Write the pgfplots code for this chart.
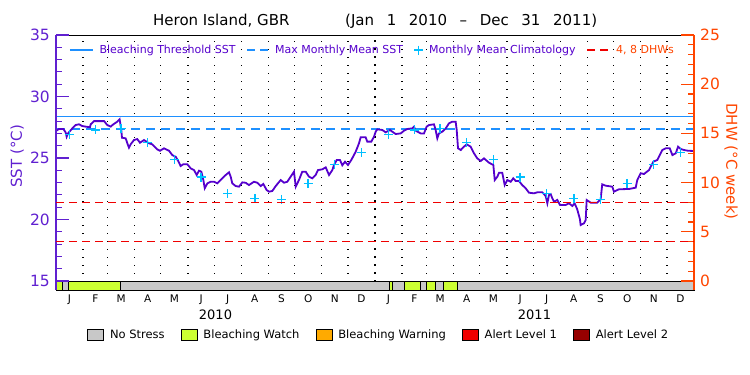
\documentclass[border=0pt]{standalone}
\usepackage{pgfplots}
\usepackage{pgfplotstable}
\pgfplotsset{compat=1.18}
\usepackage{fontspec}
\setmainfont{DejaVu Sans}
\definecolor{sstpurple}{RGB}{85,0,204}
\definecolor{axpurple}{RGB}{96,32,208}
\definecolor{dhwor}{RGB}{255,69,0}
\definecolor{thrblue}{RGB}{30,144,255}
\definecolor{climcyan}{RGB}{0,191,255}
\definecolor{dhwred}{RGB}{240,0,0}
\definecolor{nsgray}{RGB}{200,200,200}
\definecolor{watch}{RGB}{204,255,51}
\definecolor{warning}{RGB}{255,170,0}
\definecolor{alertone}{RGB}{240,0,0}
\definecolor{alerttwo}{RGB}{150,0,0}
\pgfplotsset{
  linelegend/.style={legend image code/.code={\draw[##1] (0pt,0pt) -- (#1,0pt);}},
  marklegend/.style={legend image code/.code={\draw[##1] plot coordinates {(6pt,0pt)};}},
  boxlegend/.style={legend image code/.code={\draw[##1,draw=black,line width=0.8pt] (0pt,-5.5pt) rectangle (16pt,5.5pt);}},
}
\pgfplotstableread{
day sst
0 27.2
3.4 27.36
8.4 27.36
11 27.09
12.2 26.73
13.7 27.0
18.7 27.41
22.5 27.68
26.3 27.74
30 27.6
34 27.55
38.9 27.5
39.7 27.74
43.5 28.0
55 28.0
58.7 27.68
62.5 27.55
65.6 27.74
70 27.95
72.8 28.15
74.7 27.28
75.5 26.65
79.7 26.6
81.6 26.2
83.5 25.84
85.4 26.11
89.2 26.46
93 26.54
96.1 26.24
100.7 26.46
106.4 26.2
110.2 26.11
115.9 25.7
119 25.59
123.6 25.79
129.3 25.59
133 25.24
137 25.1
139.6 24.78
142.6 24.35
145.7 24.49
150.3 24.49
154.1 24.16
157.9 24.02
161 23.62
163.6 23.97
166.3 23.89
168.6 23.21
170.2 22.54
173.2 22.94
177 23.07
180.8 23.07
184.6 22.94
188.4 23.21
194.2 23.62
198 23.84
199.9 23.48
201.7 22.94
205.6 22.72
209.4 22.67
213.2 23.02
217 22.99
220.8 22.8
226.5 23.07
230.3 22.99
234.2 22.72
237.2 22.89
241 22.4
243.7 22.26
247.5 22.32
251.4 22.72
257.1 23.21
260.9 22.99
264.6 23.07
268.5 23.48
272.3 23.89
274.3 22.67
278 23.21
281.8 23.89
285.7 23.89
289.5 23.48
293.3 23.35
297.1 23.62
299.8 24.02
304.7 24.08
308.6 24.24
312.4 23.62
316.2 24.02
318.1 24.43
321.2 24.84
324.9 24.84
327.6 24.41
330.7 24.7
334.1 24.43
337.9 24.84
342.9 25.51
346.7 26.2
348.6 26.68
354.3 26.68
356.2 26.33
360.8 26.33
363.8 26.73
365.8 27.14
367.6 27.33
373.3 27.28
377.2 27.09
382.2 27.28
384.8 27.14
388.7 26.95
394.4 27.0
398.2 27.22
402 27.36
407.7 27.41
409.6 27.55
411.6 27.22
417.3 27.0
421.1 27.0
424.1 27.55
426.8 27.68
432.5 27.74
434.4 27.28
436.3 26.6
438.2 27.0
442 27.14
445.9 27.41
449.7 27.82
453.4 27.95
457.3 27.95
458.5 27.28
460 25.79
463.1 25.65
466.8 25.92
469.9 26.11
474.5 25.92
478.3 25.38
482 24.97
486 24.76
489.7 24.97
495.4 24.62
500.4 24.43
502 23.21
505 23.48
506.9 23.8
510.6 23.8
513.4 22.8
516.4 23.21
520.3 23.07
523.2 23.35
526 23.13
529.7 23.13
533.5 22.8
537.4 22.54
541.2 22.18
546.9 22.13
550.7 22.21
556.4 22.21
560.3 21.91
562.2 21.32
564.1 21.99
566 22.07
567.9 21.72
569.8 21.45
573.6 21.59
576.7 21.18
583.2 21.18
587 21.32
590.8 21.1
593.4 21.32
596.4 20.83
599.5 20.02
600.3 19.55
604.1 19.69
606.1 19.96
607.2 21.59
611.8 21.37
619.3 21.37
623.2 21.64
625 22.86
628.9 22.75
636.5 22.67
638.4 22.26
644.2 22.46
655.6 22.48
663.3 22.59
665.1 23.21
669 23.76
672.8 23.7
678.5 24.02
683.5 24.7
688 24.84
693.8 25.65
697.7 25.79
702.2 25.79
705.3 25.24
709.1 25.38
711.8 25.92
714.8 25.73
718.6 25.65
723.2 25.59
730 25.57
}\ssttable
\pgfplotstableread{
day clim
15.5 26.93
45 27.28
74.5 27.4
105 26.25
135.5 24.87
166 23.45
196.5 22.1
227.5 21.72
258 21.64
288.5 22.94
319 24.49
349.5 25.46
380.5 26.93
410 27.28
439.5 27.4
470 26.25
500.5 24.87
531 23.45
561.5 22.1
592.5 21.72
623 21.64
653.5 22.94
684 24.49
714.5 25.46
}\climtable
\begin{document}
\begin{tikzpicture}
\useasboundingbox (0,0) rectangle (750pt,375pt);
% title
\node[font=\fontsize{15}{18}\selectfont, anchor=west, inner sep=0pt] at (153pt,354pt) {Heron Island, GBR};
\node[font=\fontsize{15}{18}\selectfont, anchor=west, inner sep=0pt] at (345pt,354pt) {\makebox[252pt][s]{(Jan 1 2010 – Dec 31 2011)}};
% main axis
\begin{axis}[
  at={(56pt,85pt)}, anchor=south west,
  scale only axis, width=638pt, height=255pt,
  xmin=0, xmax=730, ymin=14.27, ymax=35,
  axis line style={black, line width=0.9pt},
  ytick=\empty,
  xtick={0,31,59,90,120,151,181,212,243,273,304,334,365,396,424,455,485,516,546,577,608,638,669,699,730},
  xticklabels={J,F,M,A,M,J,J,A,S,O,N,D,J,F,M,A,M,J,J,A,S,O,N,D},
  x tick label as interval,
  major tick length=0pt, minor tick length=0pt,
  xmajorgrids,
  major grid style={black, line width=1.2pt, dash pattern=on 1.3pt off 6.7pt},
  xticklabel style={font=\fontsize{10.5}{12}\selectfont, inner sep=0pt, yshift=-5pt},
  legend columns=5,
  legend style={at={(0.0486,-0.1765)}, anchor=west, draw=none, fill=none, inner sep=0pt,
    font=\fontsize{11.5}{13}\selectfont,
    nodes={inner sep=0pt},
    /tikz/every odd column/.append style={column sep=6pt},
    /tikz/every even column/.append style={column sep=16pt}},
]
\addplot[forget plot, fill=nsgray, draw=black, line width=0.9pt] coordinates {(0,14.27) (0,15) (730,15) (730,14.27) (0,14.27)};
\addplot[forget plot, fill=watch, draw=black, line width=0.9pt] coordinates {(0,14.27) (0,15) (7.2,15) (7.2,14.27) (0,14.27)};
\addplot[forget plot, fill=watch, draw=black, line width=0.9pt] coordinates {(14.5,14.27) (14.5,15) (73.6,15) (73.6,14.27) (14.5,14.27)};
\addplot[forget plot, fill=watch, draw=black, line width=0.9pt] coordinates {(381.3,14.27) (381.3,15) (384.8,15) (384.8,14.27) (381.3,14.27)};
\addplot[forget plot, fill=watch, draw=black, line width=0.9pt] coordinates {(398.5,14.27) (398.5,15) (416.8,15) (416.8,14.27) (398.5,14.27)};
\addplot[forget plot, fill=watch, draw=black, line width=0.9pt] coordinates {(424.1,14.27) (424.1,15) (434,15) (434,14.27) (424.1,14.27)};
\addplot[forget plot, fill=watch, draw=black, line width=0.9pt] coordinates {(443.1,14.27) (443.1,15) (459.2,15) (459.2,14.27) (443.1,14.27)};
\addplot[forget plot, black, line width=1.9pt, dash pattern=on 1.3pt off 6.7pt] coordinates {(365,15) (365,35)};
\addplot[forget plot, thrblue, line width=1.4pt] coordinates {(0,28.35) (730,28.35)};
\addplot[forget plot, thrblue, line width=1.5pt, dash pattern=on 9pt off 6pt] coordinates {(0,27.35) (730,27.35)};
\addplot[forget plot, sstpurple, line width=1.8pt] table[x=day,y=sst] {\ssttable};
\addplot[forget plot, only marks, mark=+, climcyan, mark size=4.5pt, line width=1.4pt] table[x=day,y=clim] {\climtable};
\addlegendimage{fill=nsgray, boxlegend}
\addlegendentry{No Stress}
\addlegendimage{fill=watch, boxlegend}
\addlegendentry{Bleaching Watch}
\addlegendimage{fill=warning, boxlegend}
\addlegendentry{Bleaching Warning}
\addlegendimage{fill=alertone, boxlegend}
\addlegendentry{Alert Level 1}
\addlegendimage{fill=alerttwo, boxlegend}
\addlegendentry{Alert Level 2}
\end{axis}
% left SST axis
\begin{axis}[
  at={(56pt,85pt)}, anchor=south west,
  scale only axis, width=638pt, height=255pt,
  xmin=0, xmax=730, ymin=14.27, ymax=35,
  axis x line=none, axis y line*=left,
  y axis line style={axpurple, line width=1.3pt, -},
  ytick={15,20,25,30,35}, yticklabels={15,20,25,30,\raisebox{-6pt}{35}},
  minor y tick num=4,
  tick style={axpurple, line width=1.1pt},
  major tick length=13pt, minor tick length=6pt, tick align=inside,
  yticklabel style={font=\fontsize{15.5}{17}\selectfont, text=axpurple, inner sep=0pt, xshift=-6pt},
  ylabel={SST (°C)},
  ylabel style={font=\fontsize{15}{17}\selectfont, text=axpurple, at={(axis description cs:-0.061,0.524)}, anchor=center},
]
\end{axis}
% right DHW axis
\begin{axis}[
  at={(56pt,85pt)}, anchor=south west,
  scale only axis, width=638pt, height=255pt,
  xmin=0, xmax=730, ymin=-0.9125, ymax=25,
  axis x line=none, axis y line*=right,
  y axis line style={dhwor, line width=1.3pt, -},
  ytick={0,5,10,15,20,25}, yticklabels={0,5,10,15,20,\raisebox{-6pt}{25}},
  minor y tick num=4,
  tick style={dhwor, line width=1.1pt},
  major tick length=13pt, minor tick length=6pt, tick align=inside,
  yticklabel style={font=\fontsize{15.5}{17}\selectfont, text=dhwor, inner sep=0pt, xshift=6pt},
  ylabel={DHW (°C week)},
  ylabel style={font=\fontsize{15}{17}\selectfont, text=dhwor, at={(axis description cs:1.058,0.504)}, anchor=center, rotate=180},
  legend columns=4,
  legend style={at={(0.0204,0.941)}, anchor=west, draw=none, fill=none, inner sep=0pt,
    font=\fontsize{11}{13}\selectfont,
    nodes={inner sep=0pt},
    /tikz/every odd column/.append style={column sep=6pt},
    /tikz/every even column/.append style={column sep=11pt}},
]
\addlegendimage{thrblue, line width=1.4pt, linelegend=23pt}
\addlegendentry{\textcolor{sstpurple}{Bleaching Threshold SST}}
\addlegendimage{thrblue, line width=1.5pt, dash pattern=on 8pt off 5pt, linelegend=21pt}
\addlegendentry{\textcolor{sstpurple}{Max Monthly Mean SST}}
\addlegendimage{climcyan, only marks, mark=+, mark size=4.5pt, line width=1.4pt, marklegend}
\addlegendentry{\textcolor{sstpurple}{Monthly Mean Climatology}}
\addplot[dhwred, line width=1.5pt, dash pattern=on 8pt off 5pt, linelegend=22pt] coordinates {(0,4) (730,4)};
\addlegendentry{\textcolor{dhwor}{4, 8 DHWs}}
\addplot[forget plot, dhwred, line width=1.5pt, dash pattern=on 8pt off 5pt] coordinates {(0,8) (730,8)};
\end{axis}
% year labels
\node[font=\fontsize{13}{15}\selectfont, inner sep=0pt] at (215.5pt,60pt) {2010};
\node[font=\fontsize{13}{15}\selectfont, inner sep=0pt] at (534.5pt,60pt) {2011};
\end{tikzpicture}
\end{document}
